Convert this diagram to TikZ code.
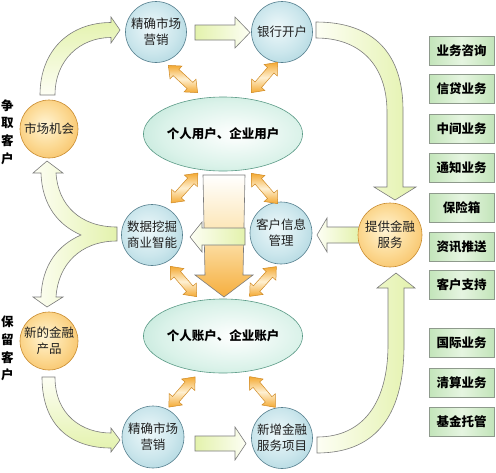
\documentclass[tikz,border=0pt]{standalone}
\usepackage{fontspec}
\newfontfamily\cjk{Noto Sans CJK SC}
\usetikzlibrary{shapes.geometric,shapes.arrows}
\definecolor{bcA}{HTML}{EEF8FA}
\definecolor{bcB}{HTML}{CBE6EC}
\definecolor{bcC}{HTML}{8DC3D0}
\definecolor{bline}{HTML}{557F8E}
\definecolor{ocA}{HTML}{FFF4D4}
\definecolor{ocB}{HTML}{FCDA95}
\definecolor{ocC}{HTML}{F3AA38}
\definecolor{oline}{HTML}{C98C30}
\definecolor{ecA}{HTML}{FFFFFF}
\definecolor{ecB}{HTML}{DAF2E9}
\definecolor{ecC}{HTML}{96D3BE}
\definecolor{eline}{HTML}{5A9A86}
\definecolor{gA}{HTML}{C3E5BA}
\definecolor{gB}{HTML}{E6F5E1}
\definecolor{gline}{HTML}{8E9A8C}
\definecolor{arrG}{HTML}{E3F2AC}
\definecolor{arrW}{HTML}{FDFEF4}
\definecolor{arrLine}{HTML}{7C7C7C}
\definecolor{dOr}{HTML}{F4A932}
\definecolor{dLt}{HTML}{FEF0D2}
\definecolor{dLine}{HTML}{D08A24}
\definecolor{bigOr}{HTML}{F6AE3E}
\definecolor{bigMid}{HTML}{FCE3AE}
\pgfdeclareradialshading{blueball}{\pgfpoint{-4bp}{4bp}}{color(0bp)=(bcA); color(20bp)=(bcB); color(48bp)=(bcC); color(70bp)=(bcC)}
\pgfdeclareradialshading{orangeball}{\pgfpoint{-4bp}{4bp}}{color(0bp)=(ocA); color(18bp)=(ocB); color(46bp)=(ocC); color(70bp)=(ocC)}
\pgfdeclareradialshading{greenball}{\pgfpoint{4bp}{0bp}}{color(0bp)=(ecA); color(22bp)=(ecB); color(50bp)=(ecC); color(70bp)=(ecC)}
\tikzset{
  bcirc/.style={circle, draw=bline, line width=0.6pt, shade, shading=blueball, inner sep=0pt, minimum size=61pt, align=center, font=\cjk\fontsize{12.5}{16}\selectfont, text=black!88},
  ocirc/.style={circle, draw=oline, line width=0.6pt, shade, shading=orangeball, inner sep=0pt, align=center, font=\cjk\fontsize{12.5}{16}\selectfont, text=black!88},
  gell/.style={ellipse, draw=eline, line width=0.6pt, shade, shading=greenball, inner sep=0pt, minimum width=134pt, minimum height=74pt, font=\cjk\bfseries\fontsize{12.5}{15}\selectfont},
  gbox/.style={rectangle, draw=gline, line width=0.8pt, left color=gA, right color=gA, middle color=gB, minimum width=65pt, minimum height=29pt, inner sep=0pt, font=\cjk\bfseries\fontsize{12.5}{15}\selectfont},
  sidetxt/.style={align=center, inner sep=0pt, font=\cjk\bfseries\fontsize{12.5}{17.7}\selectfont},
  blockarr/.style={draw=arrLine, line width=0.6pt},
  dbl/.style={double arrow, draw=dLine, line width=0.5pt, top color=dOr, bottom color=dOr, middle color=dLt, inner xsep=0pt, inner ysep=4pt, minimum height=40pt, double arrow head extend=4.5pt, double arrow tip angle=80},
}
\begin{document}
\begin{tikzpicture}[x=1pt,y=-1pt]
\useasboundingbox (0,0) rectangle (496,472);
\fill[white] (0,0) rectangle (496,472);

% curved block arrows
\path[blockarr, top color=arrG, bottom color=arrW]
  (40,95) .. controls (40,50) and (70,22.5) .. (111,22.5) -- (111,17) -- (120,30) -- (111,43) -- (111,37.5)
  .. controls (80,37.5) and (55,60) .. (55,95) -- cycle;
\path[blockarr, left color=arrW, right color=arrG]
  (316,22) .. controls (375,22) and (403,55) .. (403,110) -- (403,187) -- (416,187) -- (395,200) -- (374,187) -- (387,187)
  -- (387,112) .. controls (387,65) and (360,38) .. (316,38) -- cycle;
\path[blockarr, left color=arrW, right color=arrG]
  (317,453) .. controls (380,453) and (404,410) .. (404,345) -- (404,288) -- (415,288) -- (396,273) -- (377,288) -- (388,288)
  -- (388,345) .. controls (388,400) and (365,437) .. (317,437) -- cycle;
\path[blockarr, top color=arrW, bottom color=arrG]
  (42,377) .. controls (42,425) and (70,448) .. (111,448) -- (111,452) -- (120,440) -- (111,428) -- (111,433)
  .. controls (82,433) and (55,415) .. (55,377) -- cycle;
% fork arrow
\path[blockarr, left color=arrW, right color=arrG]
  (117,227) .. controls (80,227) and (58,205) .. (56,173) -- (63,173) -- (47,161) -- (33,173) -- (41,173)
  .. controls (42,205) and (58,225) .. (81,235)
  .. controls (58,245) and (42,265) .. (41,297) -- (33,297) -- (47,307) -- (63,297) -- (56,297)
  .. controls (58,265) and (80,241) .. (117,241) -- cycle;
% straight block arrows
\path[blockarr, left color=arrG, right color=arrW]
  (195,25) -- (235,25) -- (235,17) -- (250,32.5) -- (235,48) -- (235,40) -- (195,40) -- cycle;
\path[blockarr, left color=arrG, right color=arrW]
  (195,436) -- (235,436) -- (235,427) -- (246,443.5) -- (235,460) -- (235,451) -- (195,451) -- cycle;
\path[blockarr, left color=arrW, right color=arrG]
  (360,227) -- (327,227) -- (327,218) -- (317,235) -- (327,252) -- (327,243) -- (360,243) -- cycle;
% big down arrow
\path[blockarr, top color=white, bottom color=bigOr, middle color=bigMid]
  (203,175) -- (245,175) -- (243,275) -- (253,275) -- (224,297) -- (195,275) -- (205,275) -- cycle;
% middle left arrow
\path[blockarr, left color=arrW, right color=arrG]
  (245,228) -- (202,228) -- (202,222) -- (190,237) -- (202,252) -- (202,245) -- (245,245) -- cycle;

% nodes
\node[bcirc] (m1) at (156,32) {精确市场\\营销};
\node[bcirc] (bank) at (282,32) {银行开户};
\node[ocirc, minimum size=58pt] (opp) at (49,129) {市场机会};
\node[gell] (eu) at (223,134) {个人用户、企业用户};
\node[bcirc] (dm) at (152,235) {数据挖掘\\商业智能};
\node[bcirc, minimum size=62pt] (ci) at (281,233) {客户信息\\管理};
\node[ocirc, minimum size=64pt] (fs) at (390,235) {提供金融\\服务};
\node[gell] (el) at (223,336) {个人账户、企业账户};
\node[ocirc, minimum size=58pt] (np) at (49,341) {新的金融\\产品};
\node[bcirc, minimum size=62pt] (m2) at (153,437) {精确市场\\营销};
\node[bcirc] (ns) at (282,438) {新增金融\\服务项目};

\node[sidetxt] (s1) at (7.5,132) {争\\取\\客\\户};
\node[sidetxt] (s2) at (7.5,348.5) {保\\留\\客\\户};

\node[gbox] (b1) at (461.5,51) {业务咨询};
\node[gbox] (b2) at (461.5,89) {信贷业务};
\node[gbox] (b3) at (461.5,129) {中间业务};
\node[gbox] (b4) at (461.5,167.5) {通知业务};
\node[gbox] (b5) at (461.5,207.5) {保险箱};
\node[gbox] (b6) at (461.5,247) {资讯推送};
\node[gbox] (b7) at (461.5,285) {客户支持};
\node[gbox] (b8) at (461.5,343) {国际业务};
\node[gbox] (b9) at (461.5,382.5) {清算业务};
\node[gbox] (b10) at (461.5,422) {基金托管};

% double arrows
\coordinate (a1) at (168,65);  \coordinate (a2) at (198,93);
\coordinate (b1a) at (277,63); \coordinate (b2a) at (252,92);
\coordinate (c1) at (197,174); \coordinate (c2) at (172,202);
\coordinate (d1) at (252,174); \coordinate (d2) at (277,203);
\coordinate (e1) at (171,267); \coordinate (e2) at (196,296);
\coordinate (f1) at (276,267); \coordinate (f2) at (250,296);
\coordinate (g1) at (195,377); \coordinate (g2) at (169,407);
\coordinate (h1) at (250,377); \coordinate (h2) at (275,407);
\path (a1) -- (a2) node[midway, sloped, dbl] (da) {};
\path (b1a) -- (b2a) node[midway, sloped, dbl] (db) {};
\path (c1) -- (c2) node[midway, sloped, dbl] (dc) {};
\path (d1) -- (d2) node[midway, sloped, dbl] (dd) {};
\path (e1) -- (e2) node[midway, sloped, dbl] (de) {};
\path (f1) -- (f2) node[midway, sloped, dbl] (df) {};
\path (g1) -- (g2) node[midway, sloped, dbl] (dg) {};
\path (h1) -- (h2) node[midway, sloped, dbl] (dh) {};
\end{tikzpicture}
\end{document}
